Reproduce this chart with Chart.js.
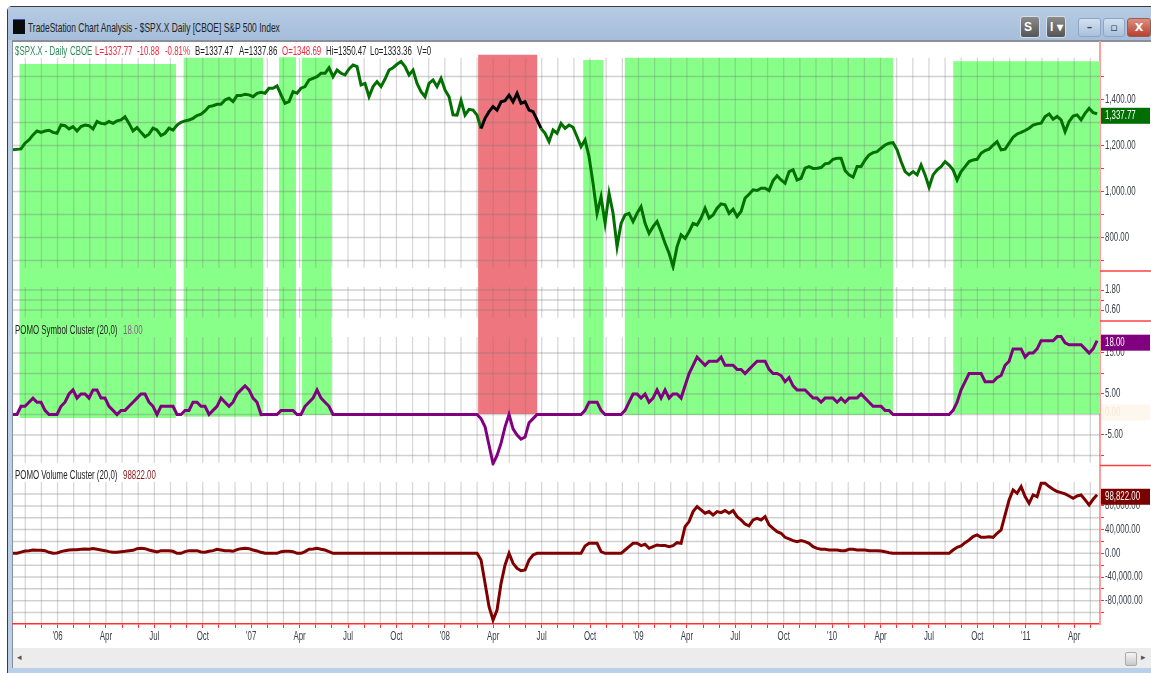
<!DOCTYPE html>
<html>
<head>
<meta charset="utf-8">
<title>TradeStation Chart Analysis</title>
<script src="https://cdn.jsdelivr.net/npm/chart.js@4"></script>
<style>
  html, body { margin: 0; padding: 0; background: #fff; overflow: hidden; }
  body { width: 1151px; height: 673px; position: relative; font-family: 'Liberation Sans', sans-serif; }
  .abs { position: absolute; }
  #win { left: 7px; top: 6px; width: 1144px; height: 667px; background: #b9d0e8; border: 1px solid #3b3b3b; border-right: 0; border-bottom: 0; border-radius: 5px 0 0 0; box-sizing: border-box; }
  #titlebar { left: 8px; top: 7px; width: 1143px; height: 33px; background: linear-gradient(#b6cbe3, #a6bedb); }
  #titlerule { left: 12px; top: 40px; width: 1139px; height: 2px; background: #8a8f96; }
  #panel { left: 12px; top: 42px; width: 1139px; height: 626px; background: #fff; border-left: 1px solid #8a8f96; box-sizing: border-box; }
  #icon { left: 13px; top: 19px; width: 12px; height: 15px; background: #0b0b0b; border-top: 1px solid #3a4fb0; box-sizing: border-box; }
  #titletext { left: 28px; top: 20px; font-size: 13.4px; color: #222; white-space: nowrap; transform: scaleX(0.63); transform-origin: left top; }
  .tool { top: 16px; width: 20px; height: 22px; border-radius: 3px; background: linear-gradient(#8b8b8b, #555); border: 1px solid #d6dee8; color: #fff; font: bold 12px 'Liberation Sans', sans-serif; line-height: 21px; box-sizing: border-box; padding-left: 3px; }
  .capbtn { top: 18px; height: 19px; border-radius: 3px; border: 1px solid #8ea6c4; box-sizing: border-box; background: linear-gradient(#d3e1f0, #a9c1dd); color: #33465c; font: bold 11px 'DejaVu Sans', sans-serif; text-align: center; line-height: 17px; }
  #closebtn { background: linear-gradient(#dd8f80, #b8402f); color: #fff; border-color: #9c5b50; }
  #scrollbar { left: 13px; top: 648px; width: 1138px; height: 20px; background: #ececec; }
  #thumb { left: 1125px; top: 652px; width: 12px; height: 14px; background: linear-gradient(#f5f5f5, #c9c9c9); border: 1px solid #aaa; border-radius: 2px; box-sizing: border-box; }
  .arrow { font: 9px 'DejaVu Sans', sans-serif; color: #555; top: 652px; }
  .cap { font-size: 12.5px; line-height: 14px; white-space: nowrap; color: #222; z-index: 3; transform: scaleX(0.63); transform-origin: left top; }
  canvas { position: absolute; left: 0; top: 0; z-index: 2; }
</style>
</head>
<body>
<div class="abs" id="win"></div>
<div class="abs" id="titlebar"></div>
<div class="abs" id="titlerule"></div>
<div class="abs" id="panel"></div>
<div class="abs" id="icon"></div>
<div class="abs" id="titletext">TradeStation Chart Analysis - $SPX.X Daily [CBOE] S&amp;P 500 Index</div>
<div class="abs tool" style="left:1020px">S ▾</div>
<div class="abs tool" style="left:1046px">I ▾</div>
<div class="abs capbtn" style="left:1078px;width:23px">–</div>
<div class="abs capbtn" style="left:1103px;width:22px">▫</div>
<div class="abs capbtn" id="closebtn" style="left:1127px;width:24px">X</div>
<div class="abs" id="scrollbar"></div>
<div class="abs" id="thumb"></div>
<div class="abs arrow" style="left:17px">◂</div>
<div class="abs arrow" style="left:1141px">▸</div>

<div class="abs cap" style="left:15px;top:44px;color:#2e8b57">$SPX.X - Daily</div>
<div class="abs cap" style="left:70px;top:44px;color:#2e8b57">CBOE</div>
<div class="abs cap" style="left:95px;top:44px;color:#f0283c">L=1337.77</div>
<div class="abs cap" style="left:137px;top:44px;color:#f0283c">-10.88</div>
<div class="abs cap" style="left:165px;top:44px;color:#f0283c">-0.81%</div>
<div class="abs cap" style="left:195px;top:44px">B=1337.47</div>
<div class="abs cap" style="left:239px;top:44px">A=1337.86</div>
<div class="abs cap" style="left:282px;top:44px;color:#f0283c">O=1348.69</div>
<div class="abs cap" style="left:326px;top:44px">Hi=1350.47</div>
<div class="abs cap" style="left:370px;top:44px">Lo=1333.36</div>
<div class="abs cap" style="left:417px;top:44px">V=0</div>
<div class="abs cap" style="left:15px;top:323px">POMO Symbol Cluster (20,0)</div>
<div class="abs cap" style="left:123px;top:323px;color:#8a5f8a">18.00</div>
<div class="abs cap" style="left:15px;top:468px">POMO Volume Cluster (20,0)</div>
<div class="abs cap" style="left:123px;top:468px;color:#8b1a1a">98822.00</div>

<canvas id="chart" width="1151" height="673"></canvas>

<script>
// --- 1. DATA ---
// x is counted in months from Jan '06, one reading every 0.2479 month
const firstMonth = -2.76;
const monthStep = 0.2479;

const priceValues = [
  1181,1183,1185,1210,1224,1246,1263,1257,1263,1266,1257,1253,1289,1286,1272,1282,1263,1282,1289,1286,
  1272,1304,1296,1294,1304,1296,1307,1311,1325,1296,1263,1278,1257,1238,1249,1275,1267,1243,1253,1275,
  1267,1289,1301,1307,1311,1318,1330,1336,1350,1369,1373,1379,1379,1398,1405,1391,1417,1417,1423,1420,
  1412,1427,1431,1427,1449,1449,1459,1420,1383,1391,1434,1427,1449,1456,1485,1492,1499,1514,1514,1538,
  1499,1528,1514,1507,1533,1550,1543,1463,1470,1412,1456,1478,1456,1489,1528,1538,1553,1565,1543,1507,
  1528,1470,1434,1412,1470,1485,1456,1492,1441,1412,1333,
  1332,1395,1332,1357,1354,1332,1274,1318,1347,1369,1354,1390,1395,1419,1390,1427,1383,1390,1354,1347,
  1311,1274,1253,1217,1267,1253,1296,1274,1289,1279,1238,1195,1224,1151,1035,905,977,861,992,905,
  760,861,898,905,869,905,934,861,818,847,869,825,775,731,673,760,811,796,825,861,854,
  884,927,884,898,927,946,942,905,923,891,913,971,988,1007,1004,1014,1014,1004,1047,1068,
  1050,1036,1086,1094,1050,1057,1101,1108,1100,1101,1104,1120,1123,1140,1144,1144,1091,1072,1062,1108,
  1108,1137,1159,1169,1173,1188,1202,1210,1212,1181,1130,1086,1072,1086,1072,1115,1072,1018,1072,1094,
  1108,1130,1115,1094,1050,1086,1108,1130,1137,1140,1166,1178,1184,1202,1217,1181,1184,1210,1236,1250,
  1257,1265,1275,1289,1294,1297,1326,1337,1314,1326,1311,1260,1304,1328,1333,1311,1340,1362,1343,1337.77
];

const symbolValues = [
  0,0,2,2,3,4,3,3,1,0,0,0,2,3,5,6,4,5,5,4,6,6,4,4,2,1,0,1,1,2,3,4,5,5,3,2,0,2,2,2,2,0,0,1,1,3,3,2,2,0,
  1,2,4,3,2,3,5,6,7,6,4,3,0,0,0,0,0,1,1,1,1,0,0,2,3,4,6,4,3,2,0,
  0,0,0,0,0,0,0,0,0,0,0,0,0,0,0,0,0,0,0,0,0,0,0,0,0,0,0,0,0,0,0,0,0,0,0,0,
  -1,-3,-7.5,-12,-10,-7,-3,0,-3.5,-5,-6,-5.5,-2,-1,0,
  0,0,0,0,0,0,0,0,0,0,0,
  1,3,3,3,1,
  0,0,0,0,0,
  1,3,5,5,4,5,3,4,6,4,6,4,5,5,4,7,
  10,12,14,13,12,13,13,13,14,12,12,12,11,11,10,11,12,13,13,13,11,10,10,9.5,8,9,7,6,6,6,5,4,4,3,4,4,4,3,4,3,
  4,4,4,5,4,3,2,2,2,1,1,0,
  0,0,0,0,0,0,0,0,0,0,0,0,0,0,
  1,3,6,8,10,10,10,10,8,8,8,9,9.5,12,13,16,16,16,14,15,15,16,18,18,18,18,
  19,19,17.5,17,17,17,17,16,15,16,18
];

const volumeValues = [
  0,0,2000,4000,4500,5600,5000,5000,4500,1700,0,600,2800,4500,5600,6200,6200,6800,7300,6800,
  7900,6800,5600,4500,2800,1700,1700,2800,3400,4500,5000,7900,8400,7900,5600,4000,2300,4500,4500,4500,
  3400,0,0,2800,4500,4500,4500,2300,1700,3400,4500,6800,5600,4500,4500,3400,6200,7900,8400,7900,
  5600,4000,1700,0,0,0,0,2800,3400,3400,2800,0,0,2800,6800,7300,8400,6800,5600,2800,0,
  0,0,0,0,0,0,0,0,0,0,0,0,0,0,0,0,0,0,0,0,0,0,0,0,0,0,0,0,0,0,0,0,0,0,0,0,
  -11300,-50700,-90000,-112600,-95700,-50700,-19700,0,-16900,-25300,-29300,-28100,-11300,-2800,0,
  0,0,0,0,0,0,0,0,0,0,0,
  12400,16900,16900,16900,2800,
  0,0,0,0,0,
  5600,11300,16900,16900,13000,15200,8400,11300,14100,13000,13000,11300,13000,18000,16900,45000,
  53500,70400,78800,73200,67600,70400,64700,70400,68700,72100,67600,72100,61900,56300,49500,46200,56300,59100,56300,61900,
  47900,42200,36600,33800,27000,24200,21400,19700,21400,19700,16900,11300,8400,6800,6800,5600,5600,5600,4500,4500,
  6800,6800,5600,5600,5600,4500,4500,4500,3900,2800,1100,0,
  0,0,0,0,0,0,0,0,0,0,0,0,0,0,
  5600,10100,12400,18000,22500,28100,31000,27000,27000,28100,27000,33800,39400,64700,90100,107000,101300,112600,95700,84400,
  98500,95700,118200,118200,112600,108100,
  104200,102500,100200,96800,92900,96800,98500,90100,81600,91200,98822
];

// Shaded regions: months on x, percent of plot height on y
const shadeStarts  = [-2.37, 7.80, 13.73, 15.12, 26.06, 32.57, 35.14, 55.50];
const shadeEnds    = [ 7.34, 12.74, 14.78, 16.98, 29.74, 33.84, 51.78, 64.61];
const shadeTops    = [ 3.8, 2.7, 2.6, 2.7, 2.2, 3.1, 2.7, 3.3];
const shadeBottoms = [64.6, 64.4, 64.1, 64.1, 63.9, 63.9, 64.1, 63.9];
const shadeColors  = ['#88ff88','#88ff88','#88ff88','#88ff88','#ee767e','#88ff88','#88ff88','#88ff88'];
const redRegion = 4;

// Ticks
const monthTicks = [-2,-1,0,1,2,3,4,5,6,7,8,9,10,11,12,13,14,15,16,17,18,19,20,21,22,23,24,25,26,27,28,29,30,31,32,33,34,35,
  36,37,38,39,40,41,42,43,44,45,46,47,48,49,50,51,52,53,54,55,56,57,58,59,60,61,62,63,64];
const quarterMonths = [0,3,6,9,12,15,18,21,24,27,30,33,36,39,42,45,48,51,54,57,60,63];
const quarterLabels = ["'06",'Apr','Jul','Oct',"'07",'Apr','Jul','Oct',"'08",'Apr','Jul','Oct',"'09",'Apr','Jul','Oct',"'10",'Apr','Jul','Oct',"'11",'Apr'];

const priceTicks = [700,800,900,1000,1100,1200,1300,1400,1500];
const priceLabelled = [800,1000,1200,1400];
const miniTicks = [0.6,1.2,1.8];
const miniLabelled = [0.6,1.8];
const symbolTicks = [-10,-5,0,5,10,15];
const symbolLabelled = [-5,5,15];
const volumeTicks = [-100000,-80000,-60000,-40000,-20000,0,20000,40000,60000,80000,100000];
const volumeLabelled = [-80000,-40000,0,40000,80000];

// Vertical grid runs, percent of plot height (the panes have gaps)
const gridRunTops    = [2.7, 42.1, 50.7, 75.6];
const gridRunBottoms = [38.8, 47.4, 72.3, 100];

// --- 2. HELPERS ---
const asPoints = values => values.map((v, i) => ({ x: firstMonth + i * monthStep, y: v }));
const money = v => Number(v).toLocaleString('en-US', { minimumFractionDigits: 2, maximumFractionDigits: 2 });
const FONT = 'Liberation Sans';
const NARROW = 0.63;  // no narrow face installed, so the canvas text gets squeezed

function narrowText(ctx, text, x, y, align) {
    ctx.save();
    ctx.translate(x, y);
    ctx.scale(NARROW, 1);
    ctx.textAlign = align || 'left';
    ctx.textBaseline = 'middle';
    ctx.fillText(text, 0, 0);
    ctx.restore();
}

function paneAxis(top, bottom, weight, ticks, labelled, order) {
    return {
        type: 'linear',
        position: 'right',
        stack: 'panes',
        stackWeight: weight,
        weight: order,
        min: bottom,
        max: top,
        afterBuildTicks: s => { s.ticks = ticks.map(v => ({ value: v })); },
        afterFit: s => { s.width = 51; },
        ticks: {
            display: false,
            autoSkip: false,
            callback: v => labelled.includes(v) ? money(v) : ''
        },
        grid: { drawOnChartArea: false, drawTicks: true, tickLength: 4, tickColor: '#ff3030' },
        border: { color: '#ff9c9c', width: 2 }
    };
}

// --- 3. PLUGIN: grid under the lines, labels, right edge rules, value badges ---
const panePlugin = {
    id: 'panePlugin',
    beforeDatasetDraw(chart, args) {
        if (chart.data.datasets[args.index].label !== 'Price') return;
        const { ctx, chartArea, scales } = chart;
        ctx.save();
        ctx.lineWidth = 1.3;
        ctx.strokeStyle = 'rgba(120,120,120,0.29)';
        monthTicks.forEach(m => {
            const px = scales.x.getPixelForValue(m);
            gridRunTops.forEach((t, i) => {
                ctx.beginPath();
                ctx.moveTo(px, scales.yBg.getPixelForValue(t));
                ctx.lineTo(px, scales.yBg.getPixelForValue(gridRunBottoms[i]));
                ctx.stroke();
            });
        });
        ctx.lineWidth = 1.5;
        ctx.strokeStyle = 'rgba(120,120,120,0.34)';
        ['yPrice', 'yMini', 'ySymbol', 'yVolume'].forEach(id => {
            scales[id].ticks.forEach(t => {
                const py = scales[id].getPixelForValue(t.value);
                ctx.beginPath();
                ctx.moveTo(chartArea.left, py);
                ctx.lineTo(chartArea.right, py);
                ctx.stroke();
            });
        });
        ctx.restore();
    },
    afterDraw(chart) {
        const { ctx, chartArea, scales, width } = chart;
        ctx.save();
        ctx.font = '12.5px ' + FONT;

        // axis labels come from the scales' own ticks
        ctx.fillStyle = '#3a4048';
        ['yPrice', 'yMini', 'ySymbol', 'yVolume'].forEach(id => {
            scales[id].ticks.forEach(t => {
                if (t.label) narrowText(ctx, t.label, chartArea.right + 5, scales[id].getPixelForValue(t.value));
            });
        });
        scales.x.ticks.forEach(t => {
            if (t.label) narrowText(ctx, t.label, scales.x.getPixelForValue(t.value), scales.x.top + 13, 'center');
        });

        // red pane rules on the axis side
        ctx.strokeStyle = '#ff4040';
        ctx.lineWidth = 1.5;
        ['yPrice', 'yMini', 'ySymbol'].forEach(id => {
            ctx.beginPath();
            ctx.moveTo(chartArea.right, scales[id].bottom);
            ctx.lineTo(width, scales[id].bottom);
            ctx.stroke();
        });

        // the faded zero label of the cluster pane
        const zero = scales.ySymbol.getPixelForValue(0);
        ctx.fillStyle = '#fdf8ee';
        ctx.fillRect(chartArea.right + 1, zero - 10, 49, 16);
        ctx.fillStyle = '#f1e7da';
        narrowText(ctx, '0.00', chartArea.right + 5, zero - 2);

        // last value badges
        const badges = [
            { id: 'yPrice', v: priceValues[priceValues.length - 1], bg: '#006e00', text: money(priceValues[priceValues.length - 1]) },
            { id: 'ySymbol', v: symbolValues[symbolValues.length - 1], bg: '#800080', text: money(symbolValues[symbolValues.length - 1]) },
            { id: 'yVolume', v: volumeValues[volumeValues.length - 1], bg: '#7a0000', text: money(volumeValues[volumeValues.length - 1]) }
        ];
        badges.forEach(b => {
            const py = scales[b.id].getPixelForValue(b.v) + 2;
            ctx.fillStyle = b.bg;
            ctx.fillRect(chartArea.right + 1, py - 8, 49, 16);
            ctx.fillStyle = '#fff';
            narrowText(ctx, b.text, chartArea.right + 5, py);
        });
        ctx.restore();
    }
};

// --- 4. CHART ---
const shadeSets = shadeStarts.map((s, i) => ({
    label: 'Region ' + i,
    data: [{ x: s, y: shadeTops[i] }, { x: shadeEnds[i], y: shadeTops[i] }],
    yAxisID: 'yBg',
    order: 3,
    fill: { value: shadeBottoms[i] },
    backgroundColor: shadeColors[i],
    borderWidth: 0,
    pointRadius: 0
}));

const lineStyle = { borderWidth: 3, pointRadius: 0, tension: 0, fill: false, borderJoinStyle: 'miter' };

new Chart(document.getElementById('chart').getContext('2d'), {
    type: 'line',
    data: {
        datasets: [
            ...shadeSets,
            {
                ...lineStyle, label: 'Price', data: asPoints(priceValues), yAxisID: 'yPrice', order: 2,
                borderColor: '#007000',
                segment: {
                    borderColor: c => (c.p0.parsed.x >= shadeStarts[redRegion] && c.p0.parsed.x <= shadeEnds[redRegion]) ? '#000' : undefined
                }
            },
            { ...lineStyle, label: 'POMO Symbol Cluster', data: asPoints(symbolValues), yAxisID: 'ySymbol', order: 1, borderColor: '#800080' },
            { ...lineStyle, label: 'POMO Volume Cluster', data: asPoints(volumeValues), yAxisID: 'yVolume', order: 0, borderColor: '#800000' }
        ]
    },
    options: {
        responsive: false,
        animation: false,
        normalized: true,
        layout: { padding: { top: 42, left: 13, right: 0, bottom: 27 } },
        plugins: { legend: { display: false }, tooltip: { enabled: false } },
        scales: {
            x: {
                type: 'linear',
                min: -2.76,
                max: 64.6,
                afterBuildTicks: s => { s.ticks = monthTicks.map(v => ({ value: v })); },
                afterFit: s => { s.height = 22; },
                ticks: {
                    display: false,
                    autoSkip: false,
                    maxRotation: 0,
                    callback: v => { const q = quarterMonths.indexOf(v); return q >= 0 ? quarterLabels[q] : ''; }
                },
                grid: { drawOnChartArea: false, drawTicks: true, tickLength: 4, tickColor: '#ff3030' },
                border: { color: '#ff3030', width: 1.5 }
            },
            yBg: { type: 'linear', display: false, position: 'left', min: 0, max: 100, reverse: true },
            yPrice: paneAxis(1650, 654, 229, priceTicks, priceLabelled, 1),
            yMini: paneAxis(2.94, -0.06, 50, miniTicks, miniLabelled, 2),
            ySymbol: paneAxis(22.8, -12.44, 144.5, symbolTicks, symbolLabelled, 3),
            yVolume: paneAxis(148200, -119300, 158.5, volumeTicks, volumeLabelled, 4)
        }
    },
    plugins: [panePlugin]
});
</script>
</body>
</html>
